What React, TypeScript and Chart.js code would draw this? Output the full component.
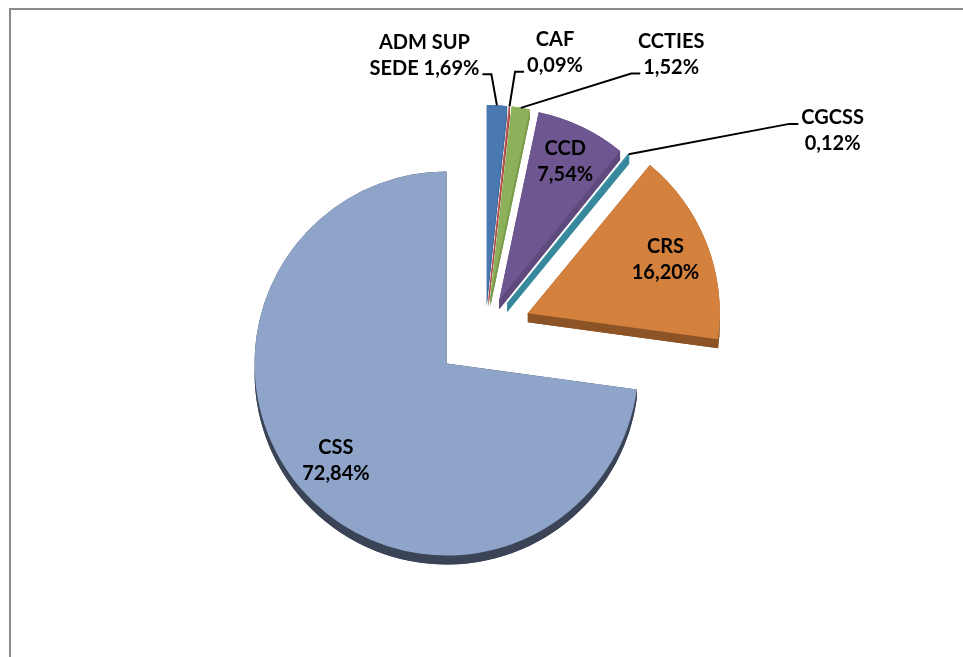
import React, { useEffect, useRef } from 'react';
import { Chart, registerables } from 'chart.js';

Chart.register(...registerables);

// ---- data ----
const categories = ['ADM SUP SEDE', 'CAF', 'CCTIES', 'CCD', 'CGCSS', 'CRS', 'CSS'];
const shares = [1.69, 0.09, 1.52, 7.54, 0.12, 16.2, 72.84];

// ---- style ----
const STYLE = {
  topColors: ['#4a78b0', '#c0504d', '#8db05a', '#6e5690', '#3e95aa', '#d4813e', '#8fa4c9'],
  sideColors: ['#3f6898', '#a94542', '#7a9a4c', '#5f4a7e', '#37889c', '#8c5426', '#3b4456'],
  explode: [33, 33, 33, 33, 35, 46, 51],
  depth: 9,
  radius: 192,
  font: 'bold 20px Lato',
  lineHeight: 26,
  insideFraction: { 3: 0.8, 5: 0.77, 6: 0.765 } as Record<number, number>,
  outside: {
    0: { dx: -72.5, dy: -50, side: 'right', line: 1 },
    1: { dx: 45.5, dy: -53.6, side: 'left', line: 1 },
    2: { dx: 150.4, dy: -53.4, side: 'left', line: 1 },
    4: { dx: 204, dy: -23.3, side: 'left', line: 0 },
  } as Record<number, { dx: number; dy: number; side: string; line: number }>,
};

const fmtPct = (v: number) => v.toFixed(2).replace('.', ',') + '%';

function labelLines(i: number): string[] {
  const words = categories[i].split(' ');
  const pct = fmtPct(shares[i]);
  if (words.length > 2) {
    const last = words.pop();
    return [words.join(' '), `${last} ${pct}`];
  }
  return [categories[i], pct];
}

const framePlugin = {
  id: 'frame',
  beforeDraw(chart: any) {
    const ctx = chart.ctx;
    ctx.save();
    ctx.strokeStyle = '#8a8a8a';
    ctx.lineWidth = 2;
    ctx.beginPath();
    ctx.moveTo(10, chart.height + 5);
    ctx.lineTo(10, 9);
    ctx.lineTo(chart.width + 5, 9);
    ctx.stroke();
    ctx.restore();
  },
};

const explodePlugin = {
  id: 'explode',
  afterDatasetsUpdate(chart: any) {
    const meta = chart.getDatasetMeta(0);
    meta.data.forEach((el: any, i: number) => {
      const mid = (el.startAngle + el.endAngle) / 2;
      const e = STYLE.explode[i] || 0;
      el.x += Math.cos(mid) * e;
      el.y += Math.sin(mid) * e;
    });
  },
};

function drawSide(ctx: CanvasRenderingContext2D, x: number, y: number, r: number, s: number, e: number, d: number) {
  const sx = x + Math.cos(s) * r;
  const sy = y + Math.sin(s) * r;
  const ex = x + Math.cos(e) * r;
  const ey = y + Math.sin(e) * r;
  // translated sector
  ctx.beginPath();
  ctx.moveTo(x, y + d);
  ctx.arc(x, y + d, r, s, e);
  ctx.closePath();
  ctx.fill();
  // swept radial edges
  for (const [px, py] of [[sx, sy], [ex, ey]]) {
    ctx.beginPath();
    ctx.moveTo(x, y);
    ctx.lineTo(px, py);
    ctx.lineTo(px, py + d);
    ctx.lineTo(x, y + d);
    ctx.closePath();
    ctx.fill();
  }
  // swept arc band
  ctx.beginPath();
  ctx.arc(x, y, r, s, e);
  ctx.arc(x, y + d, r, e, s, true);
  ctx.closePath();
  ctx.fill();
}

const sidePlugin = {
  id: 'sides',
  beforeDatasetsDraw(chart: any) {
    const ctx = chart.ctx;
    const meta = chart.getDatasetMeta(0);
    ctx.save();
    meta.data.forEach((el: any, i: number) => {
      const { x, y, startAngle, endAngle, outerRadius } = el;
      ctx.fillStyle = STYLE.sideColors[i];
      drawSide(ctx, x, y, outerRadius, startAngle, endAngle, STYLE.depth);
    });
    ctx.restore();
  },
};

const labelPlugin = {
  id: 'pieLabels',
  afterDatasetsDraw(chart: any) {
    const ctx = chart.ctx;
    const meta = chart.getDatasetMeta(0);
    const LH = STYLE.lineHeight;
    ctx.save();
    ctx.font = STYLE.font;
    ctx.fillStyle = '#000';
    ctx.strokeStyle = '#000';
    ctx.lineWidth = 2;
    ctx.textAlign = 'center';
    ctx.textBaseline = 'middle';
    meta.data.forEach((el: any, i: number) => {
      const { x, y, startAngle, endAngle, outerRadius } = el;
      const mid = (startAngle + endAngle) / 2;
      const lines = labelLines(i);
      const out = STYLE.outside[i];
      if (out) {
        const ox = x + Math.cos(mid) * outerRadius;
        const oy = y + Math.sin(mid) * outerRadius;
        const cx = ox + out.dx;
        const cy = oy + out.dy;
        const top = cy - ((lines.length - 1) * LH) / 2;
        lines.forEach((t, k) => ctx.fillText(t, cx, top + k * LH));
        const w = ctx.measureText(lines[out.line]).width;
        const ly = top + out.line * LH + 6;
        const sx = out.side === 'right' ? cx + w / 2 + 3 : cx - w / 2 - 3;
        const ex = out.side === 'right' ? sx + 9 : sx - 9;
        ctx.beginPath();
        ctx.moveTo(sx, ly);
        ctx.lineTo(ex, ly);
        ctx.lineTo(ox, oy);
        ctx.stroke();
      } else {
        const f = STYLE.insideFraction[i] ?? 0.77;
        const cx = x + Math.cos(mid) * outerRadius * f;
        const cy = y + Math.sin(mid) * outerRadius * f;
        const top = cy - ((lines.length - 1) * LH) / 2;
        lines.forEach((t, k) => ctx.fillText(t, cx, top + k * LH));
      }
    });
    ctx.restore();
  },
};

export default function App() {
  const ref = useRef<HTMLCanvasElement | null>(null);
  useEffect(() => {
    let chart: Chart | null = null;
    let cancelled = false;
    const build = () => {
      if (cancelled || !ref.current) return;
      chart = new Chart(ref.current, {
        type: 'pie',
        data: {
          labels: categories,
          datasets: [
            {
              data: shares,
              backgroundColor: STYLE.topColors,
              borderWidth: 0,
              radius: STYLE.radius,
            } as any,
          ],
        },
        options: {
          animation: false,
          responsive: false,
          devicePixelRatio: 1,
          events: [],
          layout: { padding: { left: 7, right: 0, top: 3, bottom: 0 } },
          plugins: {
            legend: { display: false },
            tooltip: { enabled: false },
            title: { display: false },
          },
        },
        plugins: [framePlugin, explodePlugin, sidePlugin, labelPlugin],
      });
    };
    const fonts = (document as any).fonts;
    if (fonts && fonts.load) {
      fonts.load(STYLE.font).then(build, build);
    } else {
      build();
    }
    return () => {
      cancelled = true;
      if (chart) chart.destroy();
    };
  }, []);
  return (
    <div style={{ position: 'fixed', left: 0, top: 0, width: 963, height: 657, background: '#fff' }}>
      <canvas ref={ref} width={963} height={657} style={{ display: 'block' }} />
    </div>
  );
}
